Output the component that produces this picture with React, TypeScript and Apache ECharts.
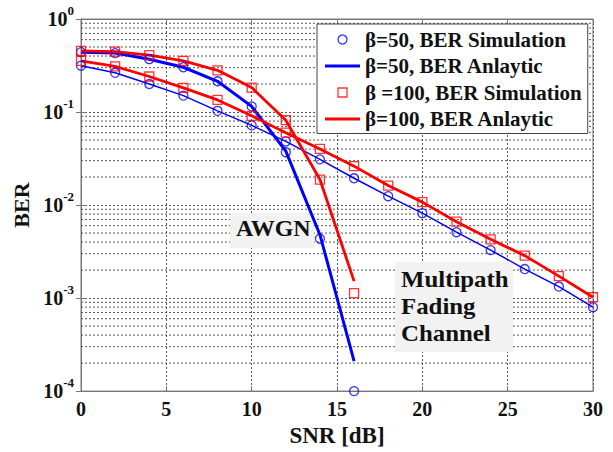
import React, { useEffect, useRef } from "react";
import * as echarts from "echarts";

const snrAwgn = [0, 2, 4, 6, 8, 10, 12, 14, 16];
const snrFading = [0, 2, 4, 6, 8, 10, 12, 14, 16, 18, 20, 22, 24, 26, 28, 30];

const ber50AwgnSim = [0.44, 0.43, 0.37, 0.303, 0.214, 0.115, 0.037, 0.00435, 0.0001];
const ber50AwgnAna = [0.44, 0.43, 0.37, 0.303, 0.214, 0.115, 0.038, 0.0048, 0.00021];
const ber100AwgnSim = [0.455, 0.447, 0.408, 0.355, 0.281, 0.183, 0.0817, 0.0188, 0.00113];
const ber100AwgnAna = [0.455, 0.447, 0.408, 0.355, 0.281, 0.183, 0.0817, 0.0188, 0.00152];

const ber50FadSim = [0.315, 0.264, 0.2, 0.15, 0.103, 0.0718, 0.0483, 0.031, 0.0194, 0.01245, 0.00818, 0.00511, 0.00328, 0.00205, 0.00133, 0.000798];
const ber50FadAna = [0.315, 0.264, 0.2, 0.15, 0.103, 0.0718, 0.0483, 0.031, 0.0194, 0.01245, 0.00818, 0.00511, 0.00328, 0.00205, 0.00133, 0.000798];
const ber100FadSim = [0.355, 0.31, 0.241, 0.182, 0.135, 0.091, 0.06, 0.0401, 0.0262, 0.0162, 0.01075, 0.00662, 0.00428, 0.00286, 0.00172, 0.00102];
const ber100FadAna = [0.355, 0.31, 0.241, 0.182, 0.135, 0.091, 0.06, 0.0401, 0.0262, 0.0162, 0.01075, 0.00662, 0.00428, 0.00286, 0.00172, 0.00102];

const legendNames = [
  "β=50, BER Simulation",
  "β=50, BER Anlaytic",
  "β =100, BER Simulation",
  "β=100, BER Anlaytic",
];
const annotationAwgn = "AWGN";
const annotationFading = "Multipath\nFading\nChannel";
const xAxisName = "SNR [dB]";
const yAxisName = "BER";

const BLUE = "#0000ff";
const RED = "#ff0000";
const FONT = "Liberation Serif";
const GRID_COLOR = "#555";
const AXIS_COLOR = "#777";

function pairs(xs: number[], ys: number[]) {
  return xs.map((x, i) => [x, ys[i]]);
}

export default function App() {
  const ref = useRef<HTMLDivElement>(null);
  useEffect(() => {
    if (!ref.current) return;
    const chart = echarts.init(ref.current, undefined, { renderer: "svg" });

    // minor log grid lines at 2..9 x 10^k (axis decoration, not data)
    const minorGridSeries: any[] = [];
    for (let e = -4; e < 0; e++) {
      for (let m = 2; m <= 9; m++) {
        const v = m * Math.pow(10, e);
        minorGridSeries.push({
          type: "line",
          data: [
            [0, v],
            [30, v],
          ],
          symbol: "none",
          silent: true,
          z: 0,
          lineStyle: { color: GRID_COLOR, type: [2, 2], width: 1 },
          emphasis: { disabled: true },
        });
      }
    }

    const lineSeries = (name: string, data: number[][], color: string, width: number) => ({
      name,
      type: "line",
      data,
      symbol: "none",
      color,
      lineStyle: { color, width },
      z: 3,
    });
    const simSeries = (name: string, data: number[][], color: string, symbol: string) => ({
      name,
      type: "scatter",
      data,
      symbol,
      symbolSize: 9,
      color,
      itemStyle: { color: "rgba(0,0,0,0)", borderColor: color, borderWidth: 1.3 },
      z: 4,
    });

    const linePath = "path://M0,0H35V3H0Z";
    const squarePath = "path://M0,0H10V10H0Z";

    const tickStyle = { show: true, inside: true, length: 5, lineStyle: { color: AXIS_COLOR } };

    chart.setOption({
      animation: false,
      grid: {
        left: 81,
        right: 20,
        top: 19,
        bottom: 53,
        show: true,
        borderColor: AXIS_COLOR,
        borderWidth: 1,
      },
      legend: {
        orient: "vertical",
        left: 317,
        top: 24,
        data: [
          {
            name: legendNames[0],
            icon: "circle",
            itemStyle: { color: "rgba(0,0,0,0)", borderColor: BLUE, borderWidth: 1.3 },
          },
          { name: legendNames[1], icon: linePath, itemStyle: { color: BLUE, borderWidth: 0 } },
          {
            name: legendNames[2],
            icon: squarePath,
            itemStyle: { color: "rgba(0,0,0,0)", borderColor: RED, borderWidth: 1.3 },
          },
          { name: legendNames[3], icon: linePath, itemStyle: { color: RED, borderWidth: 0 } },
        ],
        backgroundColor: "#fff",
        borderColor: "#444",
        borderWidth: 1,
        padding: [5, 6, 4, 8],
        itemWidth: 35,
        itemHeight: 9,
        itemGap: 5.5,
        textStyle: {
          fontFamily: FONT,
          fontWeight: "bold",
          fontSize: 21,
          lineHeight: 21,
          color: "#111",
        },
        z: 10,
      },
      xAxis: [
        {
          type: "value",
          min: 0,
          max: 30,
          interval: 5,
          name: xAxisName,
          nameLocation: "middle",
          nameGap: 25,
          nameTextStyle: { fontFamily: FONT, fontWeight: "bold", fontSize: 23, color: "#111" },
          axisLine: { show: true, lineStyle: { color: AXIS_COLOR } },
          axisTick: tickStyle,
          axisLabel: { fontFamily: FONT, fontWeight: "bold", fontSize: 20, color: "#111", margin: 8 },
          splitLine: { show: true, lineStyle: { color: GRID_COLOR, type: [2, 2], width: 1 } },
        },
        {
          type: "value",
          position: "top",
          min: 0,
          max: 30,
          interval: 5,
          axisLine: { show: true, lineStyle: { color: AXIS_COLOR } },
          axisTick: tickStyle,
          axisLabel: { show: false },
          splitLine: { show: false },
        },
      ],
      yAxis: [
        {
          type: "log",
          logBase: 10,
          min: 0.0001,
          max: 1,
          name: yAxisName,
          nameLocation: "middle",
          nameGap: 46,
          nameTextStyle: { fontFamily: FONT, fontWeight: "bold", fontSize: 22, color: "#111" },
          axisLine: { show: true, lineStyle: { color: AXIS_COLOR } },
          axisTick: tickStyle,
          axisLabel: {
            margin: 7,
            formatter: (v: number) => `{b|10}{s|${Math.round(Math.log10(v))}}`,
            rich: {
              b: { fontFamily: FONT, fontWeight: "bold", fontSize: 20, color: "#111" },
              s: { fontFamily: FONT, fontWeight: "bold", fontSize: 13, color: "#111", padding: [0, 0, 17, 0] },
            },
          },
          splitLine: { show: true, lineStyle: { color: GRID_COLOR, type: [2, 2], width: 1 } },
        },
        {
          type: "log",
          logBase: 10,
          position: "right",
          min: 0.0001,
          max: 1,
          axisLine: { show: true, lineStyle: { color: AXIS_COLOR } },
          axisTick: tickStyle,
          axisLabel: { show: false },
          splitLine: { show: false },
        },
      ],
      graphic: [
        {
          type: "rect",
          shape: { x: 230, y: 213, width: 84, height: 35 },
          style: { fill: "#f2f2f2" },
          z: 1,
          silent: true,
        },
        {
          type: "text",
          x: 236,
          y: 216,
          style: { text: annotationAwgn, font: `bold 24px "${FONT}"`, fill: "#111" },
          z: 1,
          silent: true,
        },
        {
          type: "rect",
          shape: { x: 395, y: 262, width: 118, height: 90 },
          style: { fill: "#f2f2f2" },
          z: 1,
          silent: true,
        },
        {
          type: "text",
          x: 401,
          y: 266,
          scaleX: 1.08,
          style: { text: annotationFading, font: `bold 23px "${FONT}"`, lineHeight: 27, fill: "#111" },
          z: 1,
          silent: true,
        },
      ],
      series: [
        ...minorGridSeries,
        lineSeries(legendNames[1], pairs(snrAwgn, ber50AwgnAna), BLUE, 3),
        lineSeries(legendNames[1], pairs(snrFading, ber50FadAna), BLUE, 1.5),
        lineSeries(legendNames[3], pairs(snrAwgn, ber100AwgnAna), RED, 2.8),
        lineSeries(legendNames[3], pairs(snrFading, ber100FadAna), RED, 2.8),
        simSeries(legendNames[0], pairs(snrAwgn, ber50AwgnSim), BLUE, "circle"),
        simSeries(legendNames[0], pairs(snrFading, ber50FadSim), BLUE, "circle"),
        simSeries(legendNames[2], pairs(snrAwgn, ber100AwgnSim), RED, "rect"),
        simSeries(legendNames[2], pairs(snrFading, ber100FadSim), RED, "rect"),
      ],
    });
    return () => chart.dispose();
  }, []);
  return (
    <div
      ref={ref}
      style={{ position: "fixed", left: 0, top: 0, width: 613, height: 452, background: "#fff" }}
    />
  );
}
